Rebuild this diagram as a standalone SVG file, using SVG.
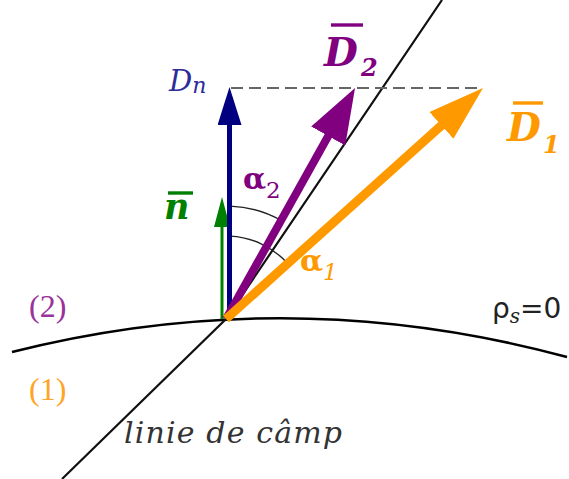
<svg xmlns="http://www.w3.org/2000/svg" width="569" height="479" viewBox="0 0 569 479">
<style>
.curve{fill:none;stroke:#000;stroke-width:2.5}
.fline{fill:none;stroke:#111;stroke-width:2.2}
.arc{fill:none;stroke:#222;stroke-width:1.4}
.dash{stroke:#666;stroke-width:2;stroke-dasharray:12 6;fill:none}
.vec{fill:none;stroke-linecap:butt}
.bar{stroke-width:3.4}
.vlab{font-family:"DejaVu Serif",serif;font-weight:bold;font-style:italic}
.ser{font-family:"DejaVu Serif",serif}
.lser{font-family:"Liberation Serif",serif}
.sans{font-family:"DejaVu Sans",sans-serif}
</style>
<defs>
<marker id="hOrange" markerUnits="userSpaceOnUse" markerWidth="56" markerHeight="36" refX="26" refY="18" orient="auto"><path d="M0,0 L56,18 L0,36 Z" fill="#ff9900"/></marker>
<marker id="hPurple" markerUnits="userSpaceOnUse" markerWidth="55" markerHeight="39" refX="25" refY="19.5" orient="auto"><path d="M0,0 L55,19.5 L0,39 Z" fill="#800080"/></marker>
<marker id="hBlue" markerUnits="userSpaceOnUse" markerWidth="38" markerHeight="24" refX="13" refY="12" orient="auto"><path d="M0,0 L38,12 L0,24 Z" fill="#000080"/></marker>
<marker id="hGreen" markerUnits="userSpaceOnUse" markerWidth="30" markerHeight="16" refX="10" refY="8" orient="auto"><path d="M0,0 L30,8 L0,16 Z" fill="#008000"/></marker>
</defs>

<g id="interface">
<path class="curve" d="M12,352 Q290,282 567,357"/>
</g>
<g id="field-line">
<polyline class="fline" points="62,479 226,319 442,0"/>
</g>
<g id="dn-dash">
<line class="dash" x1="231" y1="88" x2="483" y2="88"/>
</g>
<g id="angles">
<path class="arc" d="M230,206.1 A113,113 0 0 1 281.1,220.4"/>
<path class="arc" d="M230,236.1 A83,83 0 0 1 287.7,263.5"/>
</g>

<g id="connectors">
<line id="vec-n" class="vec" x1="222" y1="319" x2="222" y2="217" stroke="#008000" stroke-width="3" marker-end="url(#hGreen)"/>
<line id="vec-Dn" class="vec" x1="229.5" y1="319" x2="229.5" y2="112" stroke="#000080" stroke-width="5" marker-end="url(#hBlue)"/>
<line id="vec-D2" class="vec" x1="226" y1="319" x2="340.4" y2="114.2" stroke="#800080" stroke-width="8" marker-end="url(#hPurple)"/>
<line id="vec-D1" class="vec" x1="226" y1="319" x2="460.7" y2="108.05" stroke="#ff9900" stroke-width="9" marker-end="url(#hOrange)"/>
</g>

<g id="label-Dn" fill="#2b2b9a">
<text class="ser" font-style="italic" font-size="29" x="169" y="91">D<tspan font-size="22" dy="2">n</tspan></text>
</g>
<g id="label-D2" fill="#800080">
<line class="bar" x1="331" y1="25" x2="363" y2="25" stroke="#800080"/>
<text class="vlab" font-size="39" x="324" y="66">D</text>
<text class="vlab" font-size="24" x="361" y="76">2</text>
</g>
<g id="label-D1" fill="#ff9900">
<line class="bar" x1="513" y1="103" x2="543" y2="103" stroke="#ff9900"/>
<text class="vlab" font-size="39" x="507" y="141">D</text>
<text class="vlab" font-size="24" x="543" y="153">1</text>
</g>
<g id="label-n" fill="#008000">
<line class="bar" x1="168" y1="193" x2="193" y2="193" stroke="#008000" stroke-width="3"/>
<text class="vlab" font-size="35" x="164" y="219">n</text>
</g>
<g id="label-alpha2" fill="#800080">
<text class="ser" font-size="30" font-weight="bold" x="243" y="189">α<tspan font-size="23" dy="9" font-weight="normal">2</tspan></text>
</g>
<g id="label-alpha1" fill="#ff9900">
<text class="ser" font-size="30" font-weight="bold" x="300" y="271">α<tspan font-size="23" dy="9" font-weight="normal" font-style="italic">1</tspan></text>
</g>
<g id="label-medium2">
<text class="lser" font-size="32" x="29" y="317" fill="#993399">(2)</text>
</g>
<g id="label-medium1">
<text class="lser" font-size="32" x="29" y="400" fill="#ffa526">(1)</text>
</g>
<g id="label-rho">
<text class="sans" font-size="28" x="492" y="318" fill="#222">ρ<tspan class="ser" font-style="italic" font-size="20" dy="5">s</tspan><tspan dy="-5">=0</tspan></text>
</g>
<g id="label-fieldline">
<text class="ser" font-style="italic" font-size="30" x="124" y="443" fill="#333" textLength="218" lengthAdjust="spacing">linie de câmp</text>
</g>
</svg>
